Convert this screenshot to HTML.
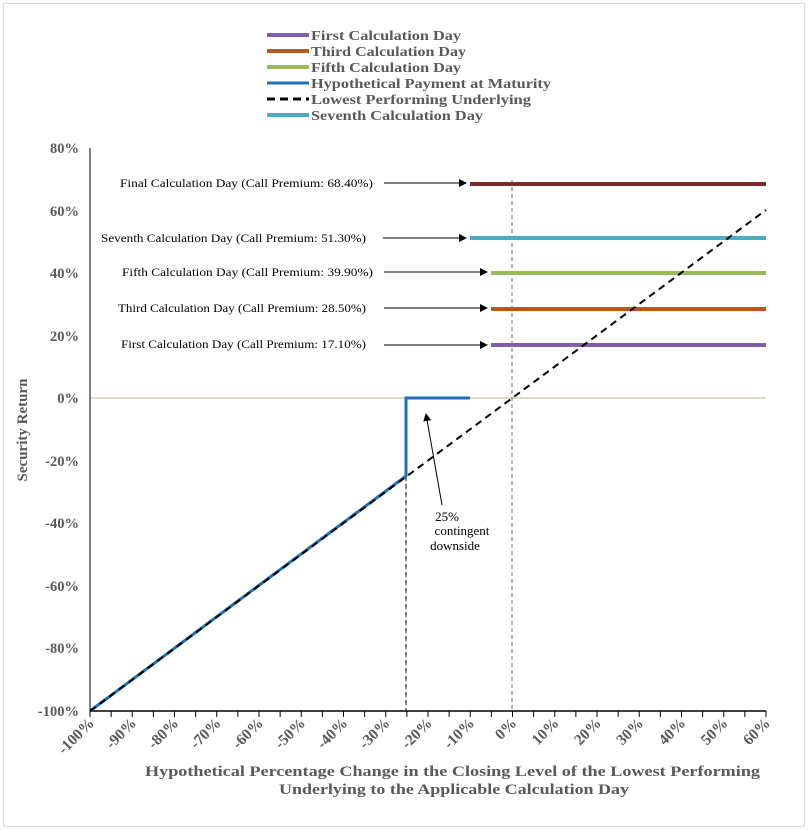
<!DOCTYPE html><html><head><style>body{margin:0;background:#fff}svg{display:block}text{font-family:"Liberation Serif",serif}</style></head><body>
<svg width="808" height="830" viewBox="0 0 808 830" xmlns="http://www.w3.org/2000/svg">
<rect x="3.5" y="3.5" width="801" height="823" fill="#fff" stroke="#d9d9d9"/>
<defs><marker id="ah" markerWidth="8" markerHeight="8" refX="7" refY="4" orient="auto"><path d="M0,0L8,4L0,8z" fill="#000"/></marker></defs>
<g font-weight="bold" font-size="14" fill="#595959">
<line x1="267" y1="35" x2="309" y2="35" stroke="#7f60a8" stroke-width="4"/><text x="311" y="40" textLength="150" lengthAdjust="spacingAndGlyphs">First Calculation Day</text>
<line x1="267" y1="51" x2="309" y2="51" stroke="#b8581b" stroke-width="4"/><text x="311" y="56" textLength="155" lengthAdjust="spacingAndGlyphs">Third Calculation Day</text>
<line x1="267" y1="67" x2="309" y2="67" stroke="#9bbb59" stroke-width="4"/><text x="311" y="72" textLength="150" lengthAdjust="spacingAndGlyphs">Fifth Calculation Day</text>
<line x1="267" y1="83" x2="309" y2="83" stroke="#1f6fb5" stroke-width="3"/><text x="311" y="88" textLength="240" lengthAdjust="spacingAndGlyphs">Hypothetical Payment at Maturity</text>
<line x1="267" y1="99" x2="309" y2="99" stroke="#000" stroke-width="3" stroke-dasharray="8,5"/><text x="311" y="104" textLength="220" lengthAdjust="spacingAndGlyphs">Lowest Performing Underlying</text>
<line x1="267" y1="115" x2="309" y2="115" stroke="#4bacc6" stroke-width="4"/><text x="311" y="120" textLength="172" lengthAdjust="spacingAndGlyphs">Seventh Calculation Day</text>
</g>
<line x1="90" y1="398" x2="766" y2="398" stroke="#ddd9c3" stroke-width="2"/>
<line x1="90" y1="148" x2="90" y2="711" stroke="#000"/>
<line x1="90" y1="711" x2="766" y2="711" stroke="#000" stroke-width="1.5"/>
<g stroke="#000" id="tk"></g>
<g font-weight="bold" font-size="14.5" fill="#595959" text-anchor="end">
<text x="79" y="153">80%</text><text x="79" y="216">60%</text><text x="79" y="278">40%</text><text x="79" y="341">20%</text><text x="79" y="403">0%</text><text x="79" y="466">-20%</text><text x="79" y="528">-40%</text><text x="79" y="591">-60%</text><text x="79" y="653">-80%</text><text x="79" y="716">-100%</text>
</g>
<text transform="translate(27,430) rotate(-90)" text-anchor="middle" font-weight="bold" font-size="15" fill="#595959">Security Return</text>
<g font-weight="bold" font-size="15.5" fill="#595959" text-anchor="end" id="xl"></g>
<text x="145" y="776" textLength="615" lengthAdjust="spacingAndGlyphs" font-weight="bold" font-size="15" fill="#595959">Hypothetical Percentage Change in the Closing Level of the Lowest Performing</text>
<text x="279" y="794" textLength="350" lengthAdjust="spacingAndGlyphs" font-weight="bold" font-size="15" fill="#595959">Underlying to the Applicable Calculation Day</text>
<line x1="512" y1="180" x2="512" y2="711" stroke="#666" stroke-dasharray="4,3"/>
<line x1="406" y1="476" x2="406" y2="711" stroke="#000" stroke-dasharray="5,3"/>
<line x1="470" y1="184" x2="766" y2="184" stroke="#7b2c2c" stroke-width="4"/>
<line x1="470" y1="238" x2="766" y2="238" stroke="#4bacc6" stroke-width="4"/>
<line x1="491" y1="273" x2="766" y2="273" stroke="#9bbb59" stroke-width="4"/>
<line x1="491" y1="309" x2="766" y2="309" stroke="#b8581b" stroke-width="4"/>
<line x1="491" y1="345" x2="766" y2="345" stroke="#7f60a8" stroke-width="4"/>
<polyline points="90,711 406,476 406,398 470,398" fill="none" stroke="#1f6fb5" stroke-width="3"/>
<line x1="90" y1="711" x2="766" y2="210" stroke="#000" stroke-width="2" stroke-dasharray="7,5"/>
<g font-size="12" fill="#000">
<text x="120" y="187" textLength="253" lengthAdjust="spacingAndGlyphs">Final Calculation Day (Call Premium: 68.40%)</text>
<text x="101" y="242" textLength="265" lengthAdjust="spacingAndGlyphs">Seventh Calculation Day (Call Premium: 51.30%)</text>
<text x="122" y="276" textLength="251" lengthAdjust="spacingAndGlyphs">Fifth Calculation Day (Call Premium: 39.90%)</text>
<text x="118" y="312" textLength="248" lengthAdjust="spacingAndGlyphs">Third Calculation Day (Call Premium: 28.50%)</text>
<text x="121" y="348" textLength="245" lengthAdjust="spacingAndGlyphs">First Calculation Day (Call Premium: 17.10%)</text>
</g>
<g stroke="#000" marker-end="url(#ah)">
<line x1="384" y1="183" x2="466" y2="183"/><line x1="383" y1="238" x2="466" y2="238"/>
<line x1="384" y1="272" x2="487" y2="272"/><line x1="384" y1="308" x2="487" y2="308"/><line x1="384" y1="345" x2="487" y2="345"/>
<line x1="442" y1="505" x2="426" y2="414"/>
</g>
<g font-size="13" fill="#000" text-anchor="middle"><text x="447" y="521">25%</text><text x="462" y="535">contingent</text><text x="455" y="550">downside</text></g>
<script>
var t=document.getElementById('tk'),l=document.getElementById('xl'),ns='http://www.w3.org/2000/svg';
for(var p=-100;p<=60;p+=5){var x=90+(p+100)*4.225;var e=document.createElementNS(ns,'line');e.setAttribute('x1',x);e.setAttribute('x2',x);e.setAttribute('y1',711);e.setAttribute('y2',717);t.appendChild(e);
if(p%10==0){var s=document.createElementNS(ns,'text');s.setAttribute('transform','translate('+(x+5)+',724) rotate(-45)');s.textContent=p+'%';l.appendChild(s);}}
</script>
</svg></body></html>
